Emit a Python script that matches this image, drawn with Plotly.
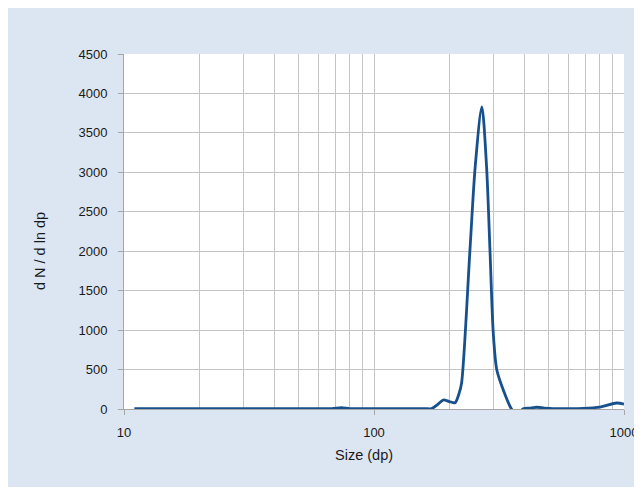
import plotly.graph_objects as go

# particle size (nm) and dN/dlndp
sizes = [11, 15, 20, 30, 40, 50, 60, 68, 74, 80, 90, 110, 140, 160, 170,
         180, 189, 200, 211, 219, 224, 242, 254, 270, 282, 291, 300, 310,
         329, 355, 375, 395, 420, 449, 480, 520, 600, 685, 800, 935, 1000]
dn_dlndp = [5, 5, 5, 5, 5, 5, 5, 6, 18, 6, 5, 5, 5, 5, 5,
            60, 114, 95, 80, 200, 326, 2015, 3072, 3830, 3072, 2015, 960, 494,
            241, 0, -60, 2, 12, 22, 12, 5, 5, 8, 25, 76, 62]

grid_x = [20, 30, 40, 50, 60, 70, 80, 90, 200, 300, 400, 500, 600, 700, 800, 900]

fig = go.Figure()
fig.add_trace(go.Scatter(
    x=sizes, y=dn_dlndp, mode="lines",
    line=dict(color="#17508c", width=2.8, shape="spline", smoothing=0.8),
    showlegend=False, hoverinfo="skip"
))

tick_font = dict(family="Liberation Sans, Arial, sans-serif", size=13, color="#1a1a1a")
title_font = dict(family="Liberation Sans, Arial, sans-serif", size=14.5, color="#1a1a1a")

fig.update_layout(
    width=642, height=487,
    margin=dict(l=116, r=26, t=46, b=86),
    paper_bgcolor="#dce6f2",
    plot_bgcolor="white",
    font=tick_font,
    xaxis=dict(
        type="log", range=[1, 3],
        tickvals=[10, 100, 1000], ticktext=["10", "100", "1000"],
        showgrid=True, gridcolor="#c4c4c4", gridwidth=1,
        minor=dict(tickvals=grid_x, showgrid=True, gridcolor="#c4c4c4", ticks=""),
        showline=True, linecolor="#a6a6a6", linewidth=1,
        ticks="outside", ticklen=5, tickcolor="#a6a6a6",
        ticklabelstandoff=6,
        zeroline=False,
    ),
    yaxis=dict(
        range=[0, 4500], dtick=500,
        showgrid=True, gridcolor="#c4c4c4", gridwidth=1,
        showline=True, linecolor="#a6a6a6", linewidth=1,
        ticks="outside", ticklen=5, tickcolor="#a6a6a6",
        ticklabelstandoff=8,
        zeroline=False,
    ),
)

# axis titles as annotations so they sit where the reference has them
fig.add_annotation(text="Size (dp)", xref="paper", yref="paper",
                   x=0.479, y=-0.13, xanchor="center", yanchor="middle",
                   showarrow=False, font=title_font)
fig.add_annotation(text="d N / d ln dp", xref="paper", yref="paper",
                   x=-0.168, y=0.445, xanchor="center", yanchor="middle",
                   textangle=-90, showarrow=False, font=title_font)

fig.write_html("out.html")
